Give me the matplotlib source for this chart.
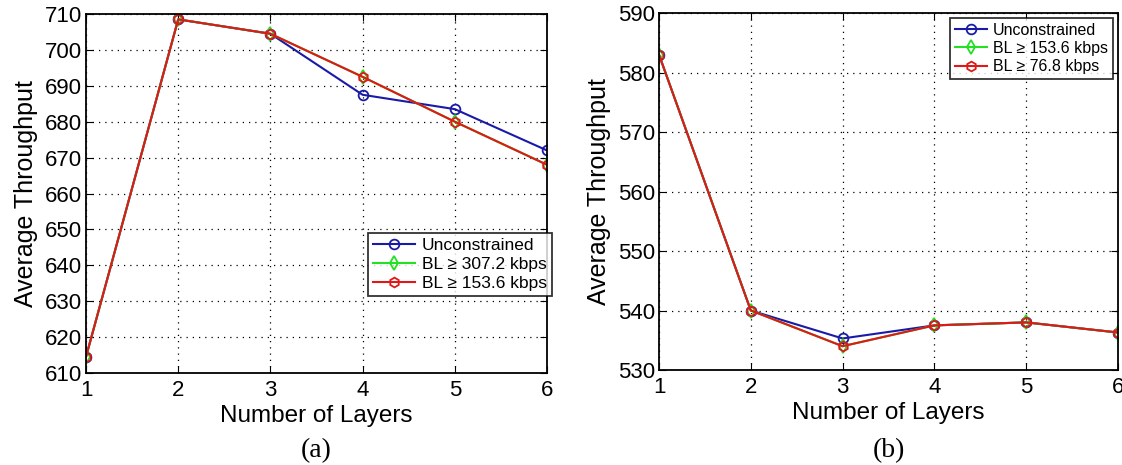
import matplotlib.pyplot as plt
import numpy as np

plt.rcParams['font.family'] = ['Liberation Sans', 'DejaVu Sans']

layers = [1, 2, 3, 4, 5, 6]

# panel (a)
a_unconstrained = [614.5, 708.5, 704.5, 687.5, 683.5, 672.0]
a_bl_307 = [614.5, 708.5, 704.5, 692.5, 680.0, 668.0]
a_bl_153 = [614.5, 708.5, 704.5, 692.5, 680.0, 668.0]
a_labels = ['Unconstrained', 'BL \u2265 307.2 kbps', 'BL \u2265 153.6 kbps']

# panel (b)
b_unconstrained = [583.0, 540.0, 535.3, 537.5, 538.0, 536.3]
b_bl_153 = [583.0, 540.0, 534.0, 537.5, 538.0, 536.3]
b_bl_76 = [583.0, 540.0, 534.0, 537.5, 538.0, 536.3]
b_labels = ['Unconstrained', 'BL \u2265 153.6 kbps', 'BL \u2265 76.8 kbps']

W, H = 1122, 465
fig = plt.figure(figsize=(W / 100, H / 100), dpi=100)

colors = ['#1a1aa8', '#22e022', '#e01818']
markers = ['o', 'd', 'h']


def draw_panel(ax, series, labels, ylim, yticks, legend_xy, legend_loc, legend_size,
               handle_len, tag):
    for vals, lab, c, m in zip(series, labels, colors, markers):
        ax.plot(layers, vals, color=c, marker=m, markersize=7, markerfacecolor='none',
                markeredgecolor=c, markeredgewidth=1.3, linewidth=1.5, label=lab)
    ax.set_xlim(1, 6)
    ax.set_ylim(*ylim)
    ax.set_xticks(layers)
    ax.set_yticks(yticks)
    ax.grid(True, color='black', linestyle=(0, (1, 4)), linewidth=0.9)
    ax.tick_params(direction='in', top=True, right=True, labelsize=16, length=5)
    ax.tick_params(axis='x', pad=5)
    ax.tick_params(axis='y', pad=3)
    for s in ax.spines.values():
        s.set_linewidth(1.3)
    ax.set_xlabel('Number of Layers', fontsize=17.5, labelpad=3)
    ax.set_ylabel('Average Throughput', fontsize=18, labelpad=5)
    leg = ax.legend(loc=legend_loc, bbox_to_anchor=legend_xy, bbox_transform=fig.transFigure,
                    fontsize=legend_size, frameon=True, fancybox=False, edgecolor='black',
                    handlelength=handle_len, handletextpad=0.4, borderpad=0.3,
                    labelspacing=0.2, borderaxespad=0)
    leg.get_frame().set_linewidth(1.3)
    bb = ax.get_position()
    fig.text((bb.x0 + bb.x1) / 2, 2 / H, tag, ha='center', va='bottom',
             fontsize=20, family='Liberation Serif')


ax1 = fig.add_axes([86 / W, 1 - 373 / H, (547 - 86) / W, (373 - 14) / H])
draw_panel(ax1, [a_unconstrained, a_bl_307, a_bl_153], a_labels, (610, 710),
           np.arange(610, 711, 10), (368 / W, 1 - 233 / H), 'upper left', 12.5, 2.4, '(a)')

ax2 = fig.add_axes([659 / W, 1 - 370 / H, (1118 - 659) / W, (370 - 13) / H])
draw_panel(ax2, [b_unconstrained, b_bl_153, b_bl_76], b_labels, (530, 590),
           np.arange(530, 591, 10), (1113 / W, 1 - 18 / H), 'upper right', 11.5, 2.0, '(b)')

fig.savefig('out.png', dpi=100)
